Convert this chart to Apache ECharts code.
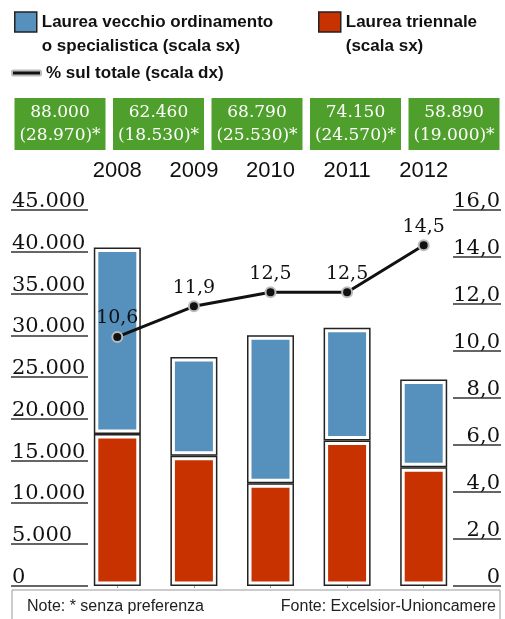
<!DOCTYPE html>
<html>
<head>
<meta charset="utf-8">
<script src="https://cdn.jsdelivr.net/npm/echarts@6/dist/echarts.min.js"></script>
<style>
  html, body { margin: 0; padding: 0; background: #fff; }
  #grafico { width: 505px; height: 619px; }
</style>
</head>
<body>
<div id="grafico"></div>
<script>
// dati
var anni = ['2008', '2009', '2010', '2011', '2012'];
var laureaTriennale = [18200, 15600, 12300, 17400, 14200];
var laureaVecchio = [22300, 11800, 17700, 13500, 10500];
var quotaTotale = [10.6, 11.9, 12.5, 12.5, 14.5];
var assunzioniTotali = [88000, 62460, 68790, 74150, 58890];
var senzaPreferenza = [28970, 18530, 25530, 24570, 19000];

var nomeVecchio = 'Laurea vecchio ordinamento\no specialistica (scala sx)';
var nomeTriennale = 'Laurea triennale\n(scala sx)';
var nomeQuota = '% sul totale (scala dx)';

var BLU = '#5690bd', ROSSO = '#c83200', VERDE = '#4f9f2c';
var SERIF = '"DejaVu Serif", serif';
var SANS = '"Liberation Sans", Arial, sans-serif';

function migliaia(v) {
    return String(v).replace(/\B(?=(\d{3})+(?!\d))/g, '.');
}
function decimale(v) {
    return v === 0 ? '0' : v.toFixed(1).replace('.', ',');
}

var etichetteBox = assunzioniTotali.map(function(v, i) {
    return migliaia(v) + '\n(' + migliaia(senzaPreferenza[i]) + ')*';
});

// legenda: prima riga del testo allineata all'icona
var testoLegenda = {
    fontFamily: SANS, fontWeight: 'bold', fontSize: 17, color: '#111', lineHeight: 24
};

var myChart = echarts.init(document.getElementById('grafico'));
myChart.setOption({
    animation: false,
    backgroundColor: '#fff',
    legend: [{
        left: 14, top: -14, padding: 0,
        itemWidth: 22, itemHeight: 20,
        selectedMode: false,
        formatter: function(n) { return '\n' + n; },
        data: [{ name: nomeVecchio, icon: 'rect',
                 itemStyle: { color: BLU, borderColor: '#222', borderWidth: 1.5 } }],
        textStyle: testoLegenda
    }, {
        left: 318, top: -14, padding: 0,
        itemWidth: 22, itemHeight: 20,
        selectedMode: false,
        formatter: function(n) { return '\n' + n; },
        data: [{ name: nomeTriennale, icon: 'rect',
                 itemStyle: { color: ROSSO, borderColor: '#222', borderWidth: 1.5 } }],
        textStyle: testoLegenda
    }, {
        left: 11, top: 62, padding: 0,
        itemWidth: 29, itemHeight: 5,
        selectedMode: false,
        data: [{ name: nomeQuota, icon: 'roundRect', itemStyle: { color: '#111' } }],
        textStyle: { fontFamily: SANS, fontWeight: 'bold', fontSize: 17, color: '#111',
                     lineHeight: 22 }
    }],
    grid: [
        { left: 79, right: 43, top: 210, bottom: 33 },
        { left: 60, right: 51, top: 152, height: 10 }
    ],
    xAxis: [{
        type: 'category',
        gridIndex: 0,
        data: anni,
        position: 'top',
        offset: 25,
        axisLine: { show: false },
        axisTick: {
            show: true, alignWithLabel: true, inside: true, length: 401,
            lineStyle: { color: '#999', width: 1, type: [2, 2] }
        },
        axisLabel: { interval: 0, margin: 3, fontFamily: SANS, fontSize: 22, color: '#111' }
    }, {
        type: 'category',
        gridIndex: 1,
        data: etichetteBox,
        position: 'top',
        boundaryGap: false,
        axisLine: { show: false },
        axisTick: { show: false },
        axisLabel: {
            interval: 0, margin: 2,
            fontFamily: SERIF, fontSize: 17, color: '#fff',
            backgroundColor: VERDE, lineHeight: 23,
            width: 91, padding: [3, 0, 3, 0], align: 'center'
        }
    }],
    yAxis: [{
        type: 'value',
        gridIndex: 0,
        position: 'left',
        offset: -9,
        min: 0, max: 45000, interval: 5000,
        axisLine: { show: false },
        splitLine: { show: false },
        axisTick: { show: true, length: 77, lineStyle: { color: '#333', width: 1.5 } },
        axisLabel: {
            margin: 76, align: 'left', verticalAlign: 'bottom', lineHeight: 17,
            fontFamily: SERIF, fontSize: 21, color: '#111',
            formatter: migliaia
        }
    }, {
        type: 'value',
        gridIndex: 0,
        position: 'right',
        offset: -9,
        min: 0, max: 16, interval: 2,
        axisLine: { show: false },
        splitLine: { show: false },
        axisTick: { show: true, length: 48, lineStyle: { color: '#333', width: 1.5 } },
        axisLabel: {
            margin: 47, align: 'right', verticalAlign: 'bottom', lineHeight: 17,
            fontFamily: SERIF, fontSize: 21, color: '#111',
            formatter: decimale
        }
    }, {
        type: 'value',
        gridIndex: 1,
        show: false
    }],
    series: [{
        name: nomeTriennale,
        type: 'bar',
        stack: 'interno',
        barWidth: 47,
        barGap: '-100%',
        data: laureaTriennale,
        itemStyle: { color: ROSSO, borderColor: '#fff', borderWidth: 4.5 }
    }, {
        name: nomeVecchio,
        type: 'bar',
        stack: 'interno',
        barWidth: 47,
        barGap: '-100%',
        data: laureaVecchio,
        itemStyle: { color: BLU, borderColor: '#fff', borderWidth: 4.5 }
    }, {
        name: 'bordo1',
        type: 'bar',
        stack: 'bordo',
        barWidth: 47,
        barGap: '-100%',
        data: laureaTriennale,
        itemStyle: { color: 'rgba(0,0,0,0)', borderColor: '#222', borderWidth: 1.5 }
    }, {
        name: 'bordo2',
        type: 'bar',
        stack: 'bordo',
        barWidth: 47,
        barGap: '-100%',
        data: laureaVecchio,
        itemStyle: { color: 'rgba(0,0,0,0)', borderColor: '#222', borderWidth: 1.5 }
    }, {
        name: nomeQuota,
        type: 'line',
        yAxisIndex: 1,
        data: quotaTotale,
        symbol: 'circle',
        symbolSize: 10,
        lineStyle: { color: '#111', width: 3 },
        itemStyle: { color: '#111', borderColor: '#bbb', borderWidth: 2 },
        label: {
            show: true, position: 'top', distance: 3,
            fontFamily: SERIF, fontSize: 19, color: '#111',
            formatter: function(p) { return decimale(p.value); }
        },
        z: 5
    }],
    graphic: [{
        type: 'rect',
        z: 100,
        shape: { x: 12, y: 590, width: 488, height: 40 },
        style: { fill: '#fff', stroke: '#999', lineWidth: 1 }
    }, {
        type: 'text',
        z: 101,
        x: 27, y: 607,
        style: { text: 'Note: * senza preferenza', fontFamily: SANS, fontSize: 16,
                 fill: '#222', verticalAlign: 'middle' }
    }, {
        type: 'text',
        z: 101,
        x: 496, y: 607,
        style: { text: 'Fonte: Excelsior-Unioncamere', fontFamily: SANS, fontSize: 16,
                 fill: '#222', align: 'right', verticalAlign: 'middle' }
    }]
});
</script>
</body>
</html>
